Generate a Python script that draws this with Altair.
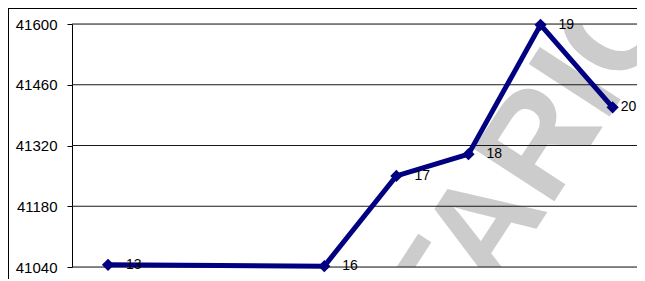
import altair as alt
import pandas as pd

# data
x_vals = [13, 16, 17, 18, 19, 20]
y_vals = [41045, 41042, 41250, 41300, 41598, 41408]
point_labels = ["13", "16", "17", "18", "19", "20"]
y_ticks = [41040, 41180, 41320, 41460, 41600]
watermark_text = ["TARIC"]
watermark_pos_x = [17.79]
watermark_pos_y = [40833]

df = pd.DataFrame({"x": x_vals, "y": y_vals, "label": point_labels})
grid_df = pd.DataFrame({"y": y_ticks})
wm_df = pd.DataFrame({"x": watermark_pos_x, "y": watermark_pos_y, "t": watermark_text})

FONT = "Liberation Sans, Arial, sans-serif"
PW = 565
xscale = alt.Scale(domain=[12.5, 20.338], nice=False, zero=False)
yscale = alt.Scale(domain=[41040, 41600], nice=False, zero=False)

y_axis = alt.Axis(
    values=y_ticks, format="d", grid=False, domain=True, domainColor="#000000",
    ticks=True, tickSize=5, tickColor="#000000", labelFont=FONT, labelFontSize=15,
    labelColor="#000000", labelPadding=10, title=None)

watermark = alt.Chart(wm_df).mark_text(
    align="left", baseline="alphabetic", angle=303, font=FONT, fontWeight="bold",
    fontSize=140, color="#cccccc", clip=True,
).encode(
    x=alt.X("x:Q", scale=xscale, axis=None),
    y=alt.Y("y:Q", scale=yscale, axis=y_axis),
    text="t:N",
)

grid = alt.Chart(grid_df).mark_rule(color="#1a1a1a", strokeWidth=1).encode(
    y=alt.Y("y:Q", scale=yscale, axis=y_axis),
    x=alt.value(0),
    x2=alt.value(PW),
)

line = alt.Chart(df).mark_line(color="#000080", strokeWidth=5).encode(
    x=alt.X("x:Q", scale=xscale, axis=None),
    y=alt.Y("y:Q", scale=yscale, axis=y_axis),
)

points = alt.Chart(df).mark_point(
    shape="diamond", filled=True, size=150, color="#000080", opacity=1
).encode(
    x=alt.X("x:Q", scale=xscale, axis=None),
    y=alt.Y("y:Q", scale=yscale, axis=y_axis),
)

labels = alt.Chart(df).transform_filter("datum.x < 20").mark_text(
    align="left", baseline="middle", dx=18, dy=0, font=FONT, fontSize=14, color="#000000"
).encode(
    x=alt.X("x:Q", scale=xscale, axis=None),
    y=alt.Y("y:Q", scale=yscale, axis=y_axis),
    text="label:N",
)

labels_last = alt.Chart(df).transform_filter("datum.x >= 20").mark_text(
    align="left", baseline="middle", dx=8, dy=0, font=FONT, fontSize=14, color="#000000"
).encode(
    x=alt.X("x:Q", scale=xscale, axis=None),
    y=alt.Y("y:Q", scale=yscale, axis=y_axis),
    text="label:N",
)

frame_left = alt.Chart(grid_df).mark_rule(color="#000000", strokeWidth=1).encode(
    x=alt.value(-63.5), y=alt.value(-16), y2=alt.value(255)
)
frame_top = alt.Chart(grid_df).mark_rule(color="#000000", strokeWidth=1).encode(
    y=alt.value(-15.5), x=alt.value(-64), x2=alt.value(PW)
)

chart = alt.layer(watermark, grid, line, points, labels, labels_last, frame_left, frame_top).properties(
    width=PW, height=243,
    autosize=alt.AutoSizeParams(type="none"),
    padding={"left": 64, "top": 16, "right": 0, "bottom": 12},
).configure_view(stroke=None).configure(background="#ffffff")

chart.save("out.html", embed_options={"renderer": "svg", "actions": False})
